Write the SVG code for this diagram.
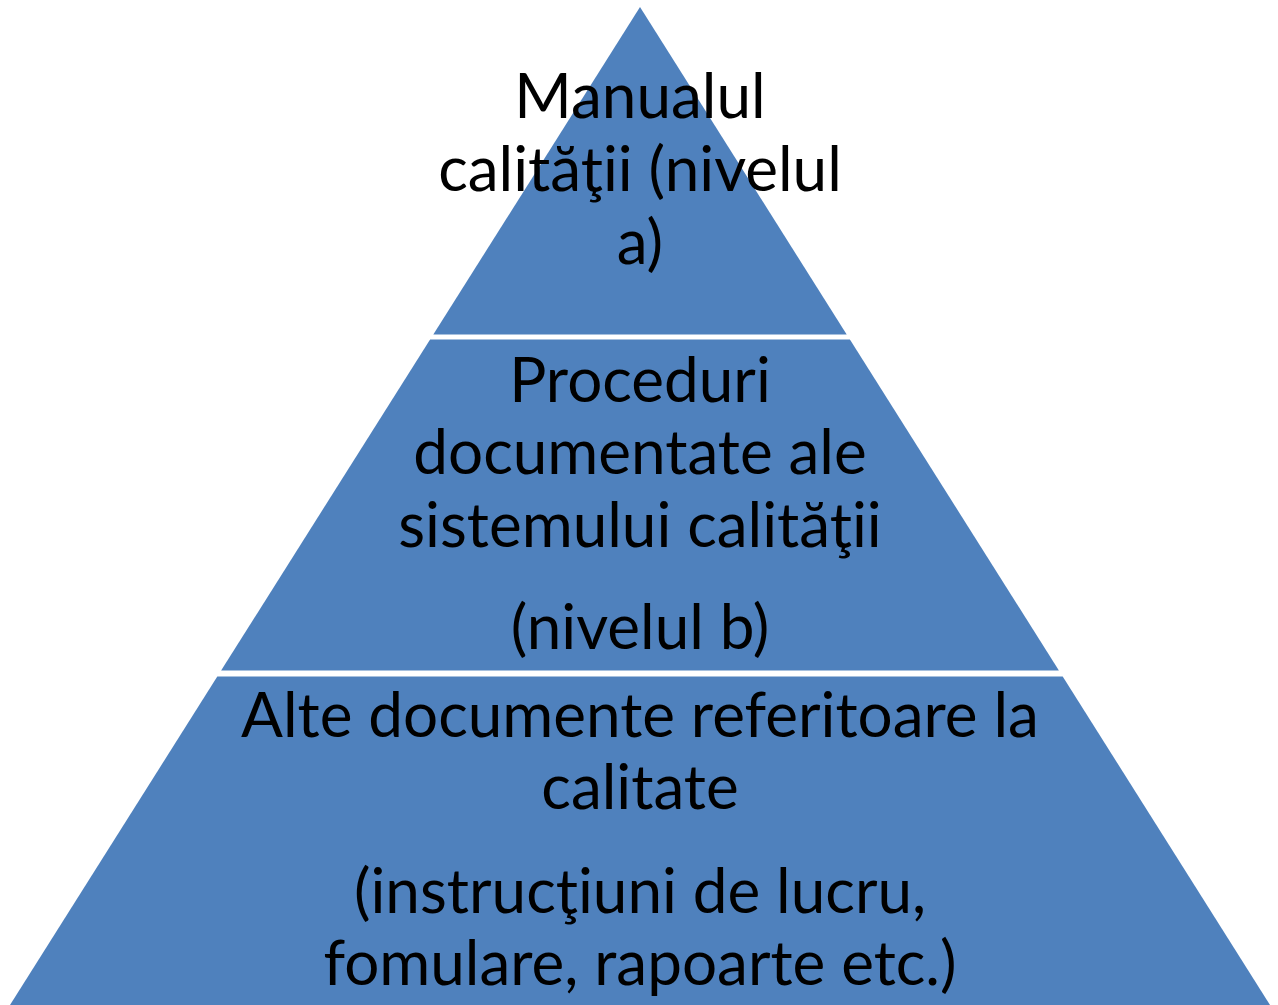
<svg xmlns="http://www.w3.org/2000/svg" width="1278" height="1005" viewBox="0 0 1278 1005">
<style>
.lvl{fill:#4F81BD;stroke:none}
.t{font-family:Lato,"Liberation Sans",sans-serif;font-size:62px;fill:#000;text-anchor:middle}
</style>
<rect width="1278" height="1005" fill="#fff"/>
<g id="level-a">
<polygon class="lvl" points="640,7 846.7,334.5 433.3,334.5"/>
<text class="t" x="640" y="118">Manualul</text>
<text class="t" x="640" y="191">calităţii (nivelul</text>
<text class="t" x="640" y="264">a)</text>
</g>
<g id="level-b">
<polygon class="lvl" points="430.1,339.5 849.9,339.5 1058.9,670.5 221.1,670.5"/>
<text class="t" x="640" y="402">Proceduri</text>
<text class="t" x="640" y="474">documentate ale</text>
<text class="t" x="640" y="547">sistemului calităţii</text>
<text class="t" x="640" y="649">(nivelul b)</text>
</g>
<g id="level-c">
<polygon class="lvl" points="217.3,676.5 1062.7,676.5 1270,1005 10,1005"/>
<text class="t" x="640" y="737">Alte documente referitoare la</text>
<text class="t" x="640" y="809">calitate</text>
<text class="t" x="640" y="913">(instrucţiuni de lucru,</text>
<text class="t" x="640" y="985">fomulare, rapoarte etc.)</text>
</g>
<g id="connectors"/>
</svg>
